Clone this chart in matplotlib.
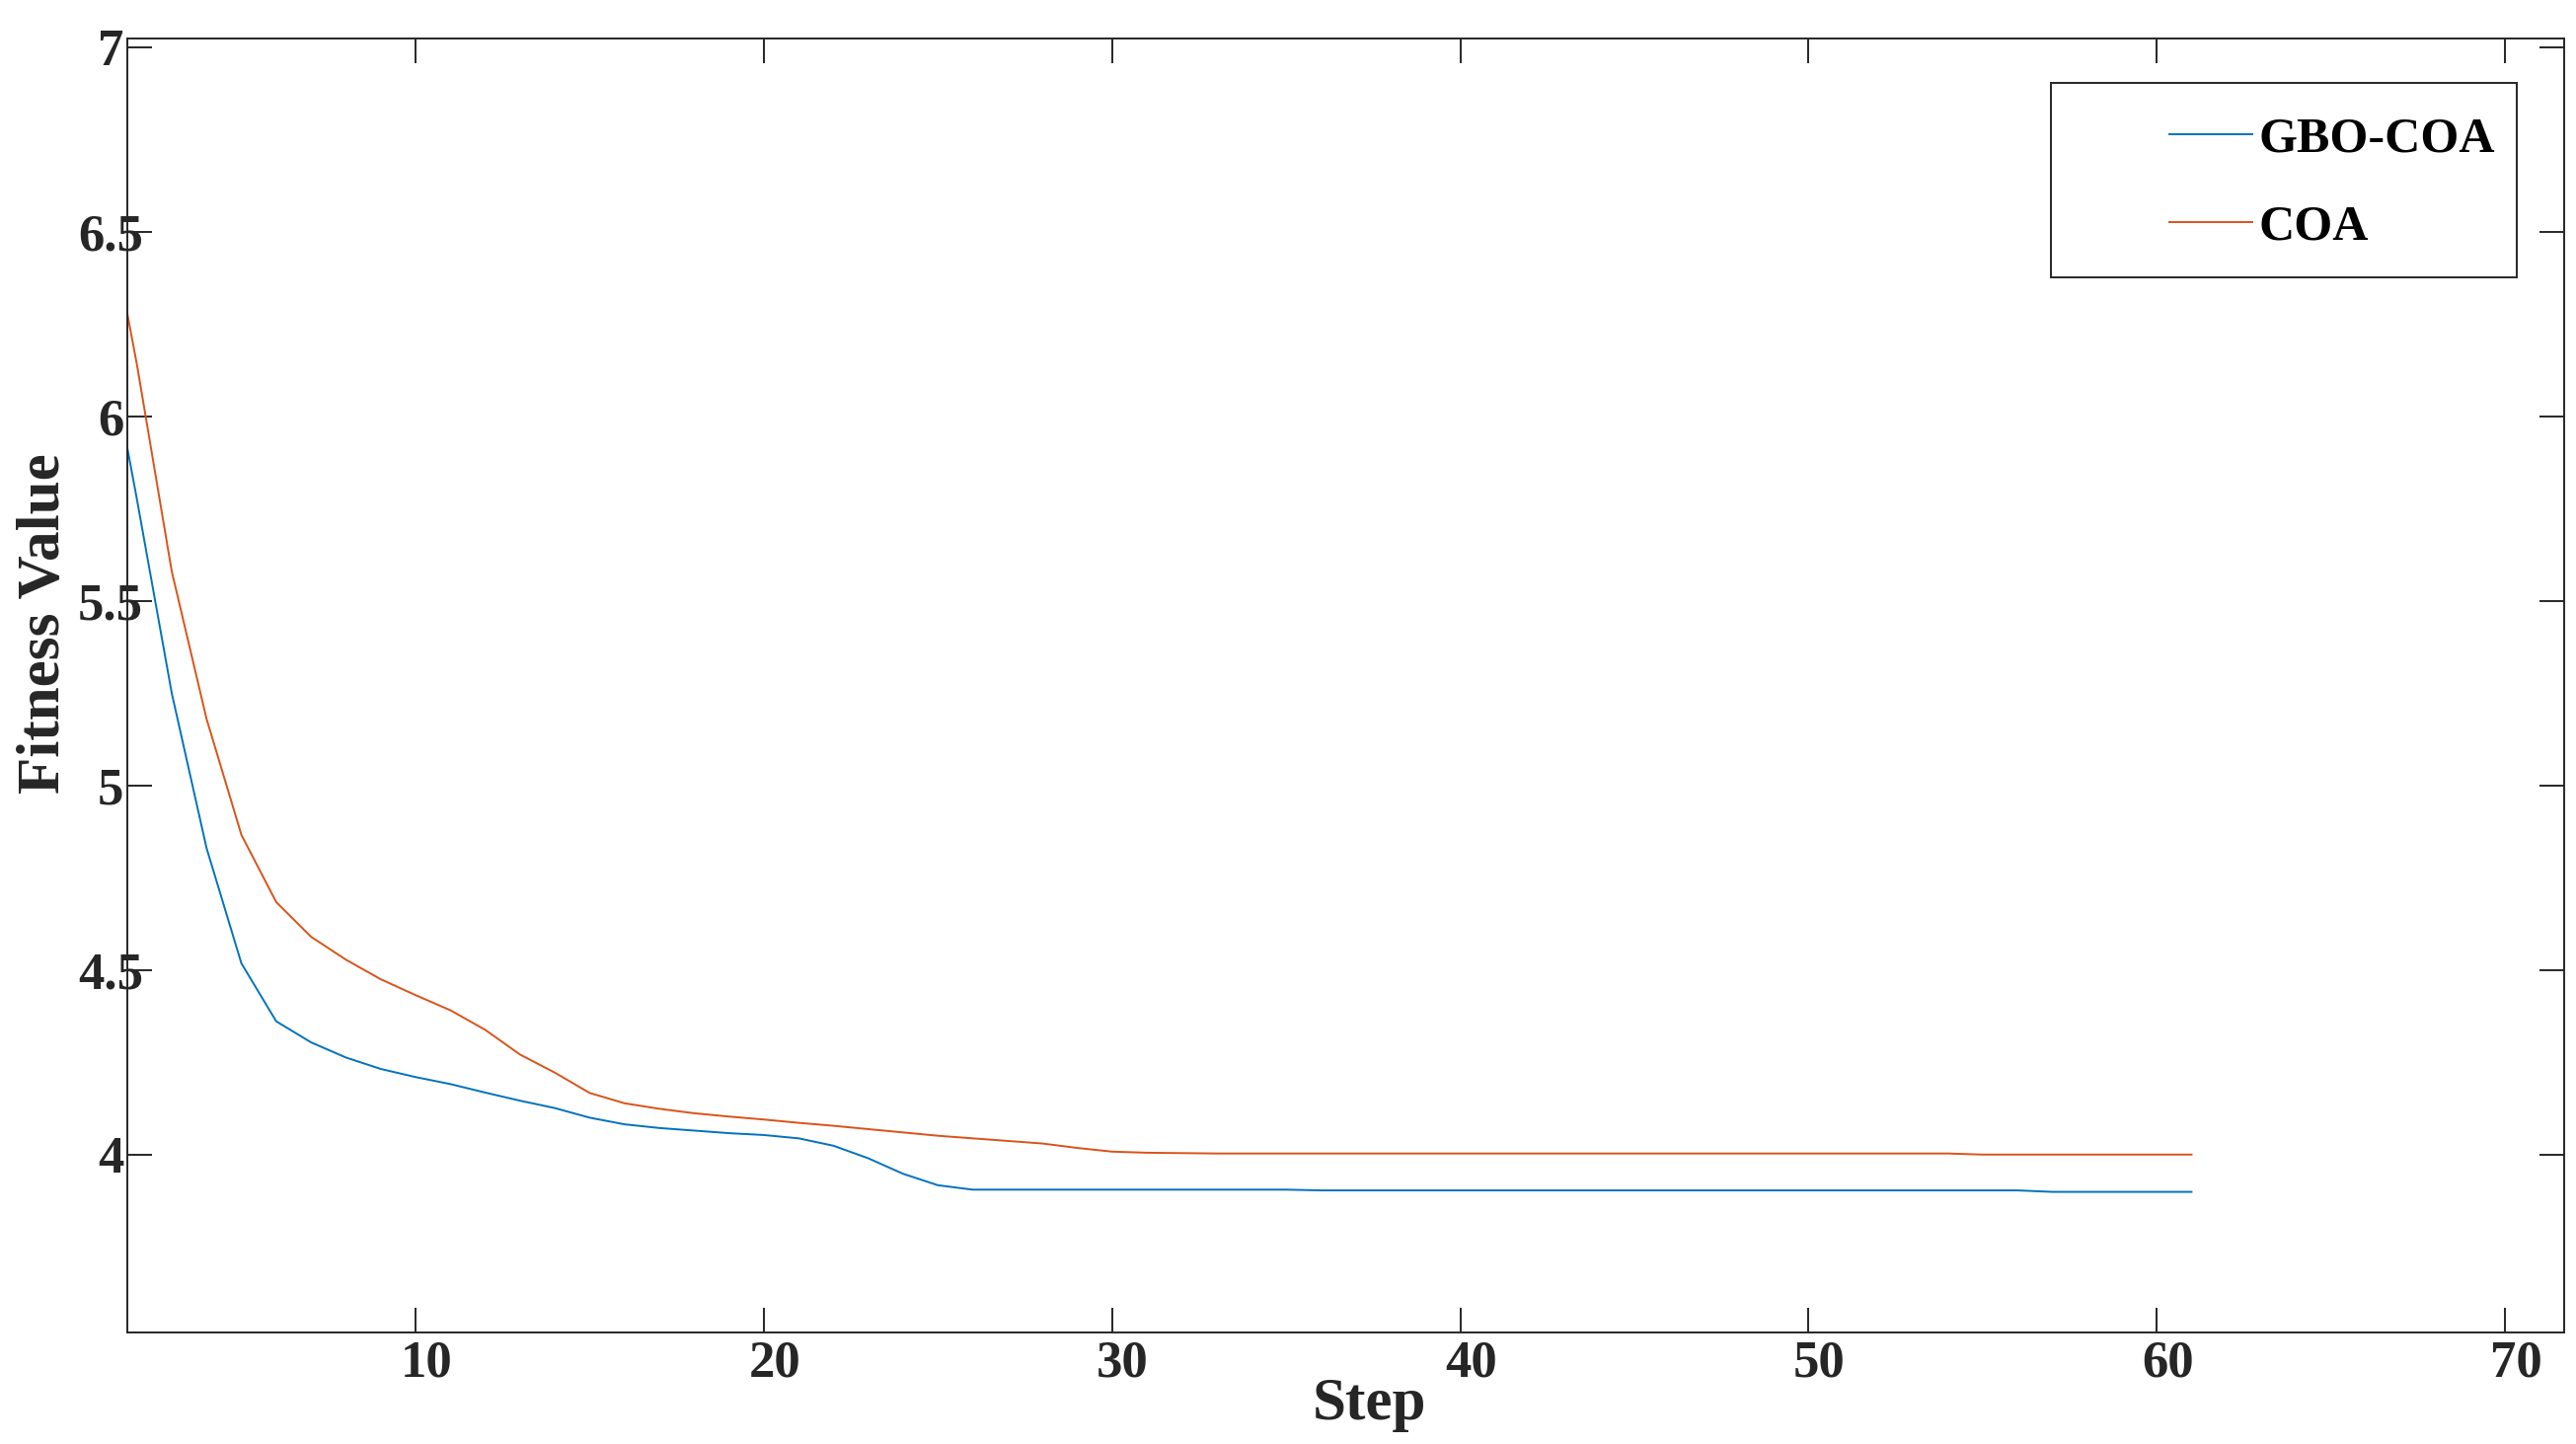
import numpy as np
import matplotlib

matplotlib.use("Agg")
import matplotlib.pyplot as plt
from matplotlib.patches import Rectangle
from matplotlib.transforms import ScaledTranslation

BLUE, ORANGE, INK = "#0072BD", "#D95319", "#262626"

plt.rcParams.update({
    "font.family": ["Liberation Serif", "DejaVu Serif"],
    "font.weight": "bold",
    "axes.edgecolor": INK, "axes.linewidth": 1.4,
    "xtick.color": INK, "ytick.color": INK,
    "axes.labelcolor": INK,
})

# convergence curves (one value per step)
steps = np.arange(1, 62)
gbo_coa = [6.28, 5.775, 5.25, 4.83, 4.518, 4.361, 4.304, 4.263, 4.232, 4.21,
           4.191, 4.168, 4.146, 4.126, 4.10, 4.082, 4.072, 4.065, 4.058, 4.053,
           4.044, 4.024, 3.99, 3.948, 3.917, 3.905, 3.905, 3.905, 3.905, 3.905,
           3.905, 3.905, 3.905, 3.905, 3.905, 3.903, 3.903, 3.903, 3.903, 3.903,
           3.903, 3.903, 3.903, 3.903, 3.903, 3.903, 3.903, 3.903, 3.903, 3.903,
           3.903, 3.903, 3.903, 3.903, 3.903, 3.903, 3.899, 3.899, 3.899, 3.899,
           3.899]
coa = [6.64, 6.14, 5.58, 5.18, 4.866, 4.684, 4.59, 4.528, 4.475, 4.432,
       4.391, 4.338, 4.271, 4.222, 4.167, 4.139, 4.124, 4.112, 4.103, 4.095,
       4.086, 4.078, 4.069, 4.06, 4.051, 4.044, 4.037, 4.03, 4.018, 4.008,
       4.005, 4.004, 4.003, 4.003, 4.003, 4.003, 4.003, 4.003, 4.003, 4.003,
       4.003, 4.003, 4.003, 4.003, 4.003, 4.003, 4.003, 4.003, 4.003, 4.003,
       4.003, 4.003, 4.003, 4.003, 4.0, 4.0, 4.0, 4.0, 4.0, 4.0,
       4.0]
series_labels = ["GBO-COA", "COA"]
xticks = [10, 20, 30, 40, 50, 60, 70]
yticks = [4, 4.5, 5, 5.5, 6, 6.5, 7]
ytick_labels = ["4", "4.5", "5", "5.5", "6", "6.5", "7"]

fig = plt.figure(figsize=(26.1, 14.63), dpi=100)
ax = fig.add_axes([0.0493, 0.0772, 0.9461, 0.8961])

ax.plot(steps, gbo_coa, color=BLUE, lw=1.4, label=series_labels[0])
ax.plot(steps, coa, color=ORANGE, lw=1.4, label=series_labels[1])

ax.set_xlim(1.715, 71.7)
ax.set_ylim(3.518, 7.023)
ax.set_xticks(xticks)
ax.set_yticks(yticks)
ax.set_yticklabels(ytick_labels)
ax.tick_params(direction="in", length=18, width=1.4, top=True, right=True,
               labelsize=38)
ax.tick_params(axis="x", pad=5)
ax.tick_params(axis="y", pad=12)
for lab in ax.get_yticklabels():
    lab.set_horizontalalignment("center")
shift = ScaledTranslation(0.11, 0, fig.dpi_scale_trans)
for lab in ax.get_xticklabels():
    lab.set_transform(lab.get_transform() + shift)

ax.set_xlabel("Step", fontsize=44, fontweight="bold")
ax.set_ylabel("Fitness Value", fontsize=44, fontweight="bold")
ax.xaxis.set_label_coords(0.5096, -0.034)
ax.yaxis.set_label_coords(-0.0226, 0.548)

# MATLAB-style legend: wide box, handles pushed to the right
ax.add_patch(Rectangle((0.7894, 0.8154), 0.1912, 0.1503, transform=ax.transAxes,
                       facecolor="white", edgecolor=INK, lw=1.4, zorder=4))
leg = ax.legend(loc="center left", bbox_to_anchor=(0.838, 0.8878), frameon=False,
                fontsize=36, handlelength=1.68, handletextpad=0.14,
                labelspacing=0.87, borderpad=0, borderaxespad=0)
leg.set_zorder(5)
for t in leg.get_texts():
    t.set_color("black")

fig.savefig("out.png", dpi=100)
